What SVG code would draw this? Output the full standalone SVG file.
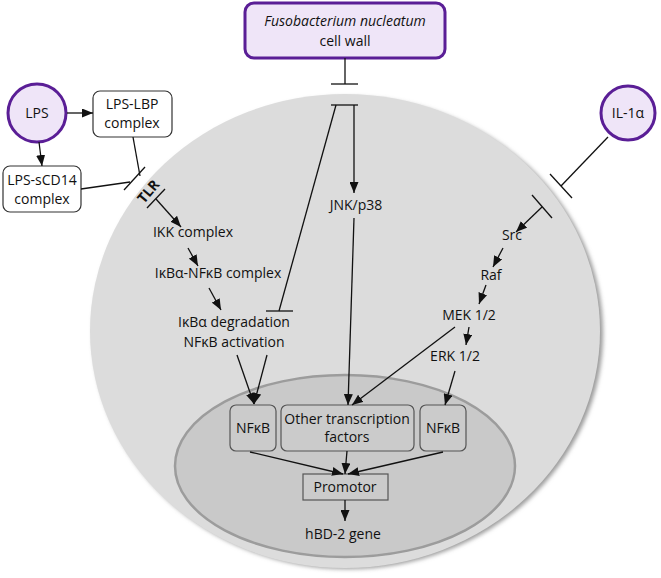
<svg xmlns="http://www.w3.org/2000/svg" width="661" height="578" viewBox="0 0 661 578">
<defs>
<style>
text{font-family:"Open Sans","Liberation Sans",sans-serif;font-size:14px;fill:#111;text-anchor:middle}
.ln{stroke:#111;stroke-width:1.3;fill:none}
.arr{marker-end:url(#ah)}
.purple{fill:#efe5f8;stroke:#5a1e96;stroke-width:3}
.wbox{fill:#fff;stroke:#333;stroke-width:1.2}
.nbox{fill:#cbcbcb;stroke:#555;stroke-width:1.2}
</style>
<marker id="ah" markerUnits="userSpaceOnUse" markerWidth="11" markerHeight="9" refX="11" refY="4.5" orient="auto">
<path d="M0,0 L11,4.5 L0,9 z" fill="#111"/>
</marker>
<filter id="sh" x="-10%" y="-10%" width="120%" height="120%">
<feGaussianBlur stdDeviation="2"/>
</filter>
</defs>

<g id="cell">
<ellipse cx="348" cy="333" rx="255" ry="236" fill="#9a9a9a" filter="url(#sh)"/>
<ellipse cx="345" cy="331" rx="255" ry="237" fill="#dcdcdc"/>
</g>
<g id="nucleus">
<ellipse cx="345" cy="466" rx="170" ry="91" fill="#c9c9c9" stroke="#9c9c9c" stroke-width="2.5"/>
</g>

<g id="fuso">
<rect class="purple" x="245" y="3" width="200" height="55" rx="9"/>
<text x="345" y="26" font-style="italic" font-size="16.5">Fusobacterium nucleatum</text>
<text x="345" y="46" font-size="16.5">cell wall</text>
</g>

<g id="lps">
<circle class="purple" cx="37" cy="113" r="29"/>
<text x="37" y="118" font-size="15.5">LPS</text>
</g>
<g id="lps-lbp">
<rect class="wbox" x="93" y="91" width="79" height="46" rx="7"/>
<text x="132" y="109">LPS-LBP</text>
<text x="132" y="128">complex</text>
</g>
<g id="lps-scd14">
<rect class="wbox" x="3" y="166" width="78" height="46" rx="7"/>
<text x="42" y="185">LPS-sCD14</text>
<text x="42" y="204">complex</text>
</g>
<g id="tlr">
<text x="149" y="196" font-size="11.5" font-weight="bold" transform="rotate(-50 149 192)">TLR</text>
</g>

<g id="il1a">
<circle class="purple" cx="628" cy="113" r="27"/>
<text x="628" y="118" font-size="15">IL-1α</text>
</g>

<g id="ikk"><text x="193" y="237">IKK complex</text></g>
<g id="ikba-nfkb"><text x="218" y="278">IκBα-NFκB complex</text></g>
<g id="ikba-deg"><text x="234" y="327">IκBα degradation</text><text x="234" y="347">NFκB activation</text></g>
<g id="jnk"><text x="356" y="210">JNK/p38</text></g>
<g id="src"><text x="512" y="240">Src</text></g>
<g id="raf"><text x="491" y="280">Raf</text></g>
<g id="mek"><text x="469" y="320">MEK 1/2</text></g>
<g id="erk"><text x="455" y="361">ERK 1/2</text></g>

<g id="nfkb-left">
<rect class="nbox" x="230" y="405" width="46" height="46" rx="6"/>
<text x="253" y="433">NFκB</text>
</g>
<g id="other-tf">
<rect class="nbox" x="281" y="405" width="133" height="46" rx="6"/>
<text x="347" y="424">Other transcription</text>
<text x="347" y="442">factors</text>
</g>
<g id="nfkb-right">
<rect class="nbox" x="420" y="405" width="46" height="46" rx="6"/>
<text x="443" y="433">NFκB</text>
</g>
<g id="promotor">
<rect x="303" y="474" width="85" height="26" fill="#cbcbcb" stroke="#555" stroke-width="1.2"/>
<text x="345" y="492">Promotor</text>
</g>
<g id="hbd2"><text x="343" y="539">hBD-2 gene</text></g>

<g id="connectors">
<line class="ln" x1="345" y1="58" x2="345" y2="84"/>
<line class="ln" x1="331" y1="84" x2="358" y2="84"/>
<line class="ln" x1="331" y1="105" x2="358" y2="105"/>
<line class="ln" x1="336" y1="105" x2="279" y2="311"/>
<line class="ln" x1="266" y1="311" x2="293" y2="311"/>
<line class="ln arr" x1="354" y1="105" x2="354" y2="193"/>
<line class="ln arr" x1="67" y1="113" x2="93" y2="113"/>
<line class="ln arr" x1="39" y1="142" x2="42" y2="166"/>
<line class="ln" x1="133" y1="137" x2="140" y2="176"/>
<line class="ln" x1="81" y1="189" x2="130" y2="182"/>
<line class="ln" x1="124" y1="190" x2="145" y2="167"/>
<line class="ln" x1="147" y1="208" x2="165" y2="189"/>
<line class="ln arr" x1="156" y1="199" x2="181" y2="227"/>
<line class="ln arr" x1="188" y1="248" x2="198" y2="266"/>
<line class="ln arr" x1="209" y1="288" x2="221" y2="310"/>
<line class="ln arr" x1="237" y1="355" x2="254" y2="404"/>
<line class="ln arr" x1="267" y1="355" x2="254" y2="404"/>
<line class="ln arr" x1="354" y1="218" x2="348" y2="405"/>
<line class="ln" x1="608" y1="137" x2="561" y2="186"/>
<line class="ln" x1="550" y1="174" x2="572" y2="198"/>
<line class="ln" x1="532" y1="195" x2="552" y2="218"/>
<line class="ln arr" x1="542" y1="207" x2="516" y2="232"/>
<line class="ln arr" x1="503" y1="248" x2="493" y2="267"/>
<line class="ln arr" x1="486" y1="285" x2="479" y2="304"/>
<line class="ln arr" x1="469" y1="327" x2="466" y2="345"/>
<line class="ln arr" x1="455" y1="327" x2="352" y2="405"/>
<line class="ln arr" x1="455" y1="371" x2="445" y2="405"/>
<line class="ln arr" x1="250" y1="452" x2="343" y2="474"/>
<line class="ln arr" x1="347" y1="451" x2="345" y2="474"/>
<line class="ln arr" x1="443" y1="452" x2="348" y2="474"/>
<line class="ln arr" x1="345" y1="500" x2="345" y2="521"/>
</g>
</svg>
